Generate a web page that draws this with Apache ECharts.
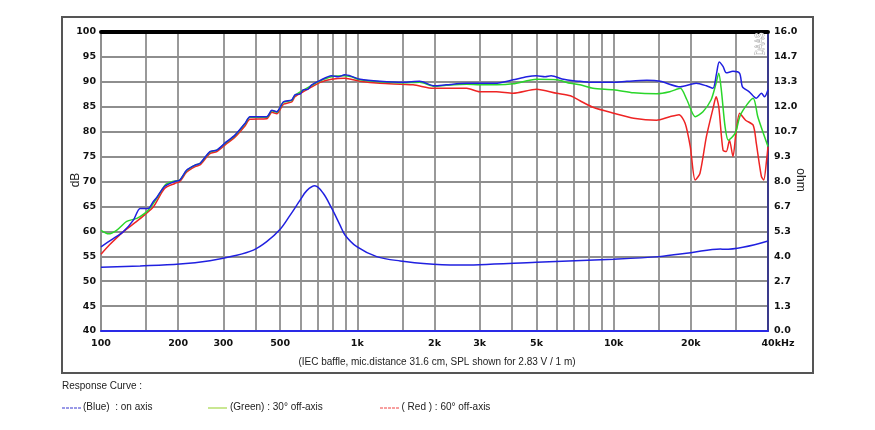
<!DOCTYPE html>
<html>
<head>
<meta charset="utf-8">
<script src="https://cdn.jsdelivr.net/npm/echarts@6/dist/echarts.min.js"></script>
<style>
html,body{margin:0;padding:0;background:#fff;}
#chart{width:875px;height:430px;}
</style>
</head>
<body>
<div id="chart"></div>
<script>
// ---- data (frequency in Hz, SPL in dB, impedance in ohm) ----
const gridFreqs = [100,150,200,300,400,500,600,700,800,900,1000,1500,2000,3000,4000,5000,6000,7000,8000,9000,10000,15000,20000,30000,40000];
const labelFreqs = [100,200,300,500,1000,2000,3000,5000,10000,20000,40000];
const dbTicksMin = 40, dbTicksMax = 100, dbStep = 5;
const ohmMin = 0, ohmMax = 16;

const blueFreq = [100,112,122,134,142,153,160,165,177,194,203,216,233,243,266,283,309,333,365,381,443,464,485,515,555,571,600,614,640,664,716,793,840,893,950,1026,1225,1510,1750,2000,2220,2670,3000,3450,4050,4580,5000,5400,5700,6380,6960,7390,8300,10000,11250,13470,15200,18200,21000,23000,24400,25200,25800,26700,27500,29200,31000,31800,33800,36000,37700,38800,40000];
const blueSpl  = [56.9,58.6,59.9,62.3,64.6,64.6,66.0,66.8,69.0,70.0,70.3,72.3,73.3,73.6,76.0,76.3,78.0,79.3,81.7,83.0,83.0,84.3,84.0,86.0,86.4,87.4,87.6,88.4,88.5,89.4,90.3,91.2,91.0,91.4,91.1,90.5,90.1,89.9,90.1,89.2,89.4,89.7,89.7,89.7,90.4,91.0,91.2,91.0,91.2,90.5,90.2,90.1,89.9,89.9,90.1,90.3,90.1,89.0,89.7,89.2,88.7,91.7,94.0,93.1,91.8,92.1,91.7,89.0,88.0,86.7,87.7,87.0,88.4];

const greenFreq = [100,107,115,126,138,148,155,165,178,190,203,216,233,243,266,283,309,333,365,381,443,464,485,515,555,571,614,664,716,793,893,950,1026,1225,1510,1750,2000,2220,2670,3000,3490,4050,5000,6000,6780,7390,8300,10000,11960,14700,16550,18200,19300,20800,22300,24000,25000,25700,26300,27200,28000,29800,31300,35000,36500,38000,40000];
const greenSpl  = [60.2,59.5,60.2,62.0,62.6,63.6,64.6,66.6,69.3,70.0,70.3,72.2,73.3,73.6,75.9,76.3,77.9,79.2,81.6,82.9,82.9,84.2,83.9,85.9,86.3,87.3,88.3,89.3,90.2,91.0,91.2,91.0,90.4,90.0,89.8,89.9,89.1,89.3,89.5,89.4,89.4,89.6,90.5,90.4,89.7,89.4,88.7,88.4,87.8,87.6,88.0,88.7,86.4,83.0,84.0,86.4,89.4,91.7,88.4,81.0,78.3,79.7,83.5,86.7,83.0,80.3,77.0];

const redFreq = [100,108,122,137,148,160,177,194,203,216,233,243,266,283,309,333,365,381,443,464,485,515,555,571,614,664,716,793,893,1026,1225,1650,1980,2670,3000,3490,4050,5000,6000,6780,7390,8300,10000,11960,14700,16550,17990,19000,19900,20790,21700,23000,24500,25100,25700,26700,27500,28300,29200,30000,31000,32700,35000,36000,37700,38500,39500,40000];
const redSpl  = [55.4,57.3,59.9,61.9,63.3,64.9,68.6,69.6,70.0,71.9,73.0,73.3,75.6,76.0,77.6,78.9,81.2,82.5,82.6,83.9,83.6,85.5,86.0,87.0,88.0,89.0,89.9,90.5,90.7,90.1,89.7,89.4,88.7,88.7,88.0,88.0,87.7,88.5,87.7,87.2,86.2,84.9,83.7,82.7,82.3,83.0,83.4,81.7,77.0,70.3,71.6,79.0,85.0,87.0,85.0,76.3,76.0,78.3,75.0,79.7,83.7,82.3,81.3,77.7,71.0,70.3,74.3,77.0];

const impFreq = [100,142,203,266,328,393,443,500,547,598,635,683,736,794,856,895,995,1190,1470,1980,2300,3000,5000,10000,15000,20000,26100,27000,40000];
const impOhm  = [3.41,3.48,3.58,3.76,4.01,4.33,4.78,5.44,6.2,7.0,7.51,7.77,7.37,6.57,5.67,5.14,4.51,3.98,3.75,3.57,3.53,3.55,3.68,3.84,3.98,4.19,4.39,4.37,4.82];

// ---- helpers ----
const lg = Math.log10;
const toPts = (fs, vs) => fs.map((f, i) => [lg(f), vs[i]]);
const fmtFreq = v => {
  const f = Math.round(Math.pow(10, v));
  if (f >= 1000) return (f / 1000) + 'k';
  return String(f);
};

const chart = echarts.init(document.getElementById('chart'));
const tickFont = { fontFamily: 'DejaVu Sans', fontWeight: 'bold', fontSize: 9.5, color: '#111' };
const textFont = 'Liberation Sans, Arial, sans-serif';
const gridColor = '#8e8e8e';

const option = {
  animation: false,
  backgroundColor: '#fff',
  grid: { left: 101, right: 107, top: 32, bottom: 99, containLabel: false },
  xAxis: [{
    type: 'value',
    min: lg(100), max: lg(40000),
    axisLine: { show: true, lineStyle: { color: '#2a2ae6', width: 2 } },
    axisTick: { show: false, customValues: gridFreqs.map(lg) },
    splitLine: { show: true, lineStyle: { color: gridColor, width: 1.8 } },
    axisLabel: {
      customValues: labelFreqs.map(lg),
      margin: 8,
      ...tickFont,
      formatter: v => {
        const s = fmtFreq(v);
        return s === '40k' ? '{r|40kHz}' : s;
      },
      rich: { r: { ...tickFont, padding: [0, 0, 0, 20] } }
    }
  }, {
    type: 'value', position: 'top',
    min: lg(100), max: lg(40000),
    axisLine: { show: true, lineStyle: { color: '#000', width: 4 } },
    axisTick: { show: false }, axisLabel: { show: false }, splitLine: { show: false }
  }],
  yAxis: [{
    type: 'value', min: dbTicksMin, max: dbTicksMax, interval: dbStep,
    axisLine: { show: true, lineStyle: { color: gridColor, width: 1.8 } },
    axisTick: { show: false },
    splitLine: { show: true, lineStyle: { color: gridColor, width: 1.8 } },
    axisLabel: { margin: 5, ...tickFont }
  }, {
    type: 'value', min: ohmMin, max: ohmMax, interval: (ohmMax - ohmMin) / 12,
    position: 'right',
    axisLine: { show: true, lineStyle: { color: '#3a3a8c', width: 2 } },
    axisTick: { show: false },
    splitLine: { show: false },
    axisLabel: { margin: 6, ...tickFont, formatter: v => v.toFixed(1) }
  }],
  series: [
    { name: 'Red', type: 'line', data: toPts(redFreq, redSpl), showSymbol: false, smooth: 0.25,
      lineStyle: { color: '#ee2424', width: 1.5 }, itemStyle: { color: '#ee2424' } },
    { name: 'Green', type: 'line', data: toPts(greenFreq, greenSpl), showSymbol: false, smooth: 0.25,
      lineStyle: { color: '#2ad62a', width: 1.5 }, itemStyle: { color: '#2ad62a' } },
    { name: 'Blue', type: 'line', data: toPts(blueFreq, blueSpl), showSymbol: false, smooth: 0.25,
      lineStyle: { color: '#2020e0', width: 1.5 }, itemStyle: { color: '#2020e0' } },
    { name: 'Impedance', type: 'line', yAxisIndex: 1, data: toPts(impFreq, impOhm), showSymbol: false, smooth: 0.35,
      lineStyle: { color: '#2020e0', width: 1.5 }, itemStyle: { color: '#2020e0' } }
  ],
  graphic: [
    { type: 'rect', shape: { x: 62, y: 17, width: 751, height: 356 }, silent: true, z: -1,
      style: { fill: 'none', stroke: '#555', lineWidth: 2 } },
    { type: 'text', x: 76, y: 180, rotation: Math.PI / 2,
      style: { text: 'dB', font: '12px ' + textFont, fill: '#222', align: 'center', verticalAlign: 'middle' } },
    { type: 'text', x: 800, y: 180, rotation: -Math.PI / 2,
      style: { text: 'ohm', font: '12px ' + textFont, fill: '#222', align: 'center', verticalAlign: 'middle' } },
    { type: 'text', x: 760, y: 44, rotation: Math.PI / 2, scaleX: 0.65, z: 10,
      style: { text: 'DAAS', font: '13px ' + textFont, fill: '#fff', stroke: '#8a8a8a', lineWidth: 0.8, align: 'center', verticalAlign: 'middle' } },
    { type: 'text', x: 437, y: 362,
      style: { text: '(IEC baffle, mic.distance 31.6 cm, SPL shown for 2.83 V / 1 m)', font: '10px ' + textFont, fill: '#222', align: 'center', verticalAlign: 'middle' } },
    { type: 'text', x: 62, y: 386,
      style: { text: 'Response Curve :', font: '10px ' + textFont, fill: '#222', align: 'left', verticalAlign: 'middle' } },
    { type: 'line', shape: { x1: 62, y1: 408, x2: 81, y2: 408 },
      style: { stroke: '#3535d0', lineWidth: 1, lineDash: [3, 1] } },
    { type: 'text', x: 83, y: 407.5,
      style: { text: '(Blue)  : on axis', font: '10px ' + textFont, fill: '#222', align: 'left', verticalAlign: 'middle' } },
    { type: 'line', shape: { x1: 208, y1: 408, x2: 227, y2: 408 },
      style: { stroke: '#a6d84a', lineWidth: 1.2 } },
    { type: 'text', x: 230, y: 407.5,
      style: { text: '(Green) : 30° off-axis', font: '10px ' + textFont, fill: '#222', align: 'left', verticalAlign: 'middle' } },
    { type: 'line', shape: { x1: 380, y1: 408, x2: 399, y2: 408 },
      style: { stroke: '#f04040', lineWidth: 1, lineDash: [3, 1] } },
    { type: 'text', x: 401.5, y: 407.5,
      style: { text: '( Red ) : 60° off-axis', font: '10px ' + textFont, fill: '#222', align: 'left', verticalAlign: 'middle' } }
  ]
};
chart.setOption(option);
</script>
</body>
</html>
